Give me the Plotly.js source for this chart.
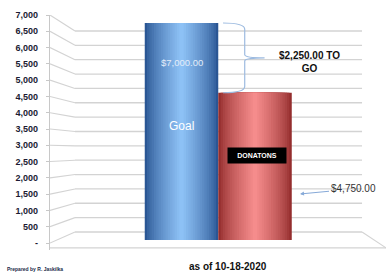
<!DOCTYPE html>
<html>
<head>
<meta charset="utf-8">
<script src="https://cdn.plot.ly/plotly-3.0.1.min.js"></script>
<style>html,body{margin:0;padding:0;background:#fff}#chart{width:386px;height:275px}</style>
</head>
<body>
<div id="chart"></div>
<script>
// ---- data ----
const categories = ["Goal", "Donations"];
const values = [7000, 4750];
const tickVals = [0, 500, 1000, 1500, 2000, 2500, 3000, 3500, 4000, 4500, 5000, 5500, 6000, 6500, 7000];
const tickText = ["-", "500", "1,000", "1,500", "2,000", "2,500", "3,000", "3,500", "4,000", "4,500", "5,000", "5,500", "6,000", "6,500", "7,000"];
const barLabels = ["Goal", "DONATONS"];
const xTitle = "as of 10-18-2020";
const credit = "Prepared by R. Jaskilka";

// ---- styling: cylinder shading colours (edge, centre) per bar ----
const edgeColors   = [[42, 86, 148], [148, 46, 46]];
const centreColors = [[146, 198, 250], [250, 144, 144]];
const nLayers = 16;

const FONT = "Liberation Sans, Arial, sans-serif";
const xIdx = categories.map((c, i) => i);
const xRange = [-1.789, 2.782];
const xBackL = -1.449, xBackR = 2.456;
const backY = v => 338 + 0.8816 * v;   // projection of back-wall grid onto front axis
const fmt = v => "$" + v.toLocaleString("en-US", {minimumFractionDigits: 2, maximumFractionDigits: 2});
const mix = (a, b, t) => "rgb(" + a.map((c, k) => Math.round(c + (b[k] - c) * t)).join(",") + ")";

const traces = [];
for (let i = 0; i < nLayers; i++) {
  const w = 1 - i * (0.94 / (nLayers - 1));         // layer width, full -> narrow
  const t = Math.pow(1 - w, 0.75);                   // brightness profile edge -> centre
  traces.push({
    type: "bar",
    x: xIdx,
    y: values,
    width: w,
    xaxis: "x",
    yaxis: "y2",
    marker: {color: edgeColors.map((e, k) => mix(e, centreColors[k], t)), line: {width: 0}},
    text: categories,
    hoverinfo: "text+y",
    textposition: "none",
    showlegend: false
  });
}

const shapes = [];
const grid = "#d3d3d3";
tickVals.forEach(v => {
  shapes.push({type: "line", xref: "x", yref: "y", x0: xBackL, x1: xBackR, y0: backY(v), y1: backY(v),
               line: {color: grid, width: 1.3}, layer: "below"});
  shapes.push({type: "line", xref: "x", yref: "y", x0: xRange[0], x1: xBackL, y0: v, y1: backY(v),
               line: {color: grid, width: 1.1}, layer: "below"});
});
// floor
shapes.push({type: "line", xref: "x", yref: "y", x0: xRange[0], x1: xRange[1], y0: -150, y1: -150,
             line: {color: grid, width: 1.3}, layer: "below"});
shapes.push({type: "line", xref: "x", yref: "y", x0: xBackR, x1: xRange[1], y0: backY(0), y1: -150,
             line: {color: grid, width: 1.1}, layer: "below"});
// brace between goal and donations
const bTop = values[0], bBot = values[1], bMid = (bTop + bBot) / 2;
const bx0 = 0.565, bx1 = 0.86, bx2 = 1.13;
shapes.push({type: "path", xref: "x", yref: "y2",
  path: `M ${bx0},${bTop} Q ${bx1},${bTop} ${bx1},${bTop-200} L ${bx1},${bMid+100} Q ${bx1},${bMid} ${bx2},${bMid} ` +
        `Q ${bx1},${bMid} ${bx1},${bMid-100} L ${bx1},${bBot+200} Q ${bx1},${bBot} ${bx0},${bBot}`,
  line: {color: "#9dbbe0", width: 1.2}, layer: "above"});

const annotations = [
  {x: 0, y: 5710, xref: "x", yref: "y2", text: fmt(values[0]), showarrow: false,
   font: {family: FONT, size: 9.5, color: "#e4edf9"}},
  {x: 0, y: 3677, xref: "x", yref: "y2", text: barLabels[0], showarrow: false,
   font: {family: FONT, size: 12, color: "#ffffff"}},
  {x: 1.03, y: 2710, xref: "x", yref: "y2", text: barLabels[1], showarrow: false,
   bgcolor: "#000000", borderpad: 0, width: 58, height: 15,
   font: {family: FONT, size: 7, color: "#ffffff", weight: "bold"}},
  {x: 1.735, y: 5742, xref: "x", yref: "y2", text: fmt(values[0] - values[1]) + " TO<br>GO", showarrow: false,
   font: {family: FONT, size: 10, color: "#111111", weight: "bold"}},
  {x: 1.612, y: 1484, xref: "x", yref: "y2", text: fmt(values[1]), showarrow: true,
   ax: 53, ay: -5, arrowhead: 2, arrowsize: 0.8, arrowwidth: 1, arrowcolor: "#86a9d8", standoff: 0,
   font: {family: FONT, size: 10, color: "#333333"}},
  {x: 0.53, y: -0.072, xref: "paper", yref: "paper", text: xTitle, showarrow: false,
   xanchor: "center", yanchor: "middle",
   font: {family: FONT, size: 10, color: "#111111", weight: "bold"}},
  {x: -0.134, y: -0.081, xref: "paper", yref: "paper", text: credit, showarrow: false,
   xanchor: "left", yanchor: "middle",
   font: {family: FONT, size: 5, color: "#1a2a4a", weight: "bold"}}
];

const layout = {
  width: 386, height: 275,
  margin: {l: 50, r: 0, t: 15, b: 25, pad: 0},
  paper_bgcolor: "#ffffff", plot_bgcolor: "#ffffff",
  barmode: "overlay",
  showlegend: false,
  xaxis: {range: xRange, showgrid: false, zeroline: false, showticklabels: false, showline: false, fixedrange: true},
  yaxis: {range: [-215, 7000], tickvals: tickVals, ticktext: tickText, showgrid: false, zeroline: false,
          showline: true, linecolor: "#c8c8c8", linewidth: 1.2, ticks: "outside", ticklen: 3, tickcolor: "#c8c8c8",
          ticklabelstandoff: 6,
          tickfont: {family: FONT, size: 9, color: "#1b1b33", weight: "bold"}, fixedrange: true},
  yaxis2: {range: [-323, 7258], overlaying: "y", visible: false, showgrid: false, zeroline: false, fixedrange: true},
  shapes: shapes,
  annotations: annotations
};

Plotly.newPlot("chart", traces, layout, {displayModeBar: false, staticPlot: true});
</script>
</body>
</html>
